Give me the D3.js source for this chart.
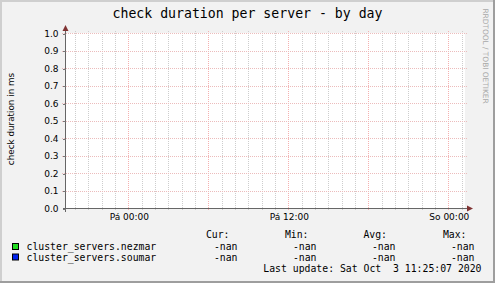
<!DOCTYPE html>
<head>
  <meta charset="utf-8">
  <style>
  body { margin: 0; }
  svg { display: block; }
  .mono { font-family: "DejaVu Sans Mono", monospace; }
  .sans { font-family: "DejaVu Sans", sans-serif; }
  .axis path, .axis line { shape-rendering: crispEdges; }
  </style>
  <title>check duration per server - by day</title>
</head>
<body>
  <svg width="495" height="283"></svg>
  <script src="https://d3js.org/d3.v7.min.js"></script>
  <script>
  // data (all series empty: rrd returned nothing, legend shows -nan)
  var seriesNames = ["cluster_servers.nezmar", "cluster_servers.soumar"];
  var seriesColors = ["#22dd22", "#0022ee"];
  var nezmarValues = [];
  var soumarValues = [];
  var legendHeaders = ["Cur:", "Min:", "Avg:", "Max:"];
  var nezmarStats = ["-nan", "-nan", "-nan", "-nan"];
  var soumarStats = ["-nan", "-nan", "-nan", "-nan"];
  var yTicks = [0, 0.1, 0.2, 0.3, 0.4, 0.5, 0.6, 0.7, 0.8, 0.9, 1.0];
  var xTicks = [new Date(2020, 9, 2, 0), new Date(2020, 9, 2, 12), new Date(2020, 9, 3, 0)];
  var xTickLabels = ["Pá 00:00", "Pá 12:00", "So 00:00"];
  var timeStart = new Date(2020, 9, 1, 19, 15);
  var timeEnd = new Date(2020, 9, 3, 1, 15);

  var svg = d3.select("svg"),
      width = +svg.attr("width"),
      height = +svg.attr("height");

  // plot area (named so they don't clash with window.top)
  var pLeft = 65, pRight = 465, pTop = 33, pBottom = 208;

  var x = d3.scaleTime().domain([timeStart, timeEnd]).range([pLeft, pRight]);
  var y = d3.scaleLinear().domain([0, 1]).range([pBottom, pTop]);

  // background + shade frame
  svg.append("rect").attr("width", width).attr("height", height).attr("fill", "#f2f2f2");
  svg.append("path").attr("d", "M1,283V1H495").attr("fill", "none")
      .attr("stroke", "#cfcfcf").attr("stroke-width", 2);
  svg.append("path").attr("d", "M0,282H494V0").attr("fill", "none")
      .attr("stroke", "#9e9e9e").attr("stroke-width", 2);

  // canvas
  svg.append("rect").attr("x", pLeft).attr("y", pTop)
      .attr("width", pRight - pLeft).attr("height", pBottom - pTop).attr("fill", "#fff");

  // minor grid, every hour
  var hours = d3.timeHour.range(timeStart, timeEnd);
  svg.append("g").selectAll("line")
    .data(hours.filter(function(d) { return d.getHours() % 6 != 0; }))
    .enter().append("line")
      .attr("x1", function(d) { return Math.round(x(d)) + 0.5; })
      .attr("x2", function(d) { return Math.round(x(d)) + 0.5; })
      .attr("y1", pTop - 2).attr("y2", pBottom + 2)
      .attr("stroke", "#cdcdcd").attr("stroke-dasharray", "1,1");

  // major grid, every 6 hours
  svg.append("g").selectAll("line")
    .data(hours.filter(function(d) { return d.getHours() % 6 == 0; }))
    .enter().append("line")
      .attr("x1", function(d) { return Math.round(x(d)) + 0.5; })
      .attr("x2", function(d) { return Math.round(x(d)) + 0.5; })
      .attr("y1", pTop - 2).attr("y2", pBottom + 3)
      .attr("stroke", "#f5b0b0").attr("stroke-dasharray", "1,1");

  // horizontal grid
  svg.append("g").selectAll("line")
    .data(yTicks.filter(function(d) { return d > 0; }))
    .enter().append("line")
      .attr("x1", pLeft - 3).attr("x2", pRight + 2)
      .attr("y1", function(d) { return Math.round(y(d)) + 0.5; })
      .attr("y2", function(d) { return Math.round(y(d)) + 0.5; })
      .attr("stroke", "#ecbcbc").attr("stroke-dasharray", "1,1");

  // series lines (nothing to draw)
  var line = d3.line()
      .defined(function(d) { return !isNaN(d.v); })
      .x(function(d) { return x(d.t); })
      .y(function(d) { return y(d.v); });
  [nezmarValues, soumarValues].forEach(function(vals, i) {
    svg.append("path").datum(vals).attr("d", line)
        .attr("fill", "none").attr("stroke", seriesColors[i]);
  });

  // y axis
  var yAxis = svg.append("g")
      .attr("class", "axis sans")
      .attr("transform", "translate(" + (pLeft + 0.5) + ",0.5)")
      .call(d3.axisLeft(y).tickValues(yTicks).tickFormat(d3.format(".1f")).tickSize(3).tickPadding(4));
  yAxis.select(".domain").attr("d", "M0," + (pBottom + 3) + "V" + (pTop - 3)).attr("stroke", "#666");
  yAxis.selectAll(".tick line").attr("stroke", "#777");
  yAxis.selectAll("text").attr("font-size", 9).attr("fill", "#000")
      .attr("font-family", "DejaVu Sans");

  // x axis
  var xAxis = svg.append("g")
      .attr("class", "axis sans")
      .attr("transform", "translate(0.5," + (pBottom + 0.5) + ")")
      .call(d3.axisBottom(x).tickValues(xTicks)
        .tickFormat(function(d, i) { return xTickLabels[i]; })
        .tickSize(0).tickPadding(5));
  xAxis.select(".domain").attr("d", "M" + (pLeft - 3) + ",0H" + (pRight + 3)).attr("stroke", "#666");
  xAxis.selectAll("text").attr("font-size", 9).attr("fill", "#000")
      .attr("font-family", "DejaVu Sans");

  // arrows
  svg.append("path").attr("d", "M" + (pLeft - 2.5) + "," + (pTop - 2) + "L" + (pLeft + 0.5) + "," + (pTop - 8) + "L" + (pLeft + 3.5) + "," + (pTop - 2) + "Z")
      .attr("fill", "#803333");
  svg.append("path").attr("d", "M" + (pRight + 2) + "," + (pBottom - 2.5) + "L" + (pRight + 8) + "," + (pBottom + 0.5) + "L" + (pRight + 2) + "," + (pBottom + 3.5) + "Z")
      .attr("fill", "#803333");

  // title
  svg.append("text").attr("class", "mono")
      .attr("x", 247.5).attr("y", 18)
      .attr("text-anchor", "middle").attr("font-size", 13.2)
      .text("check duration per server - by day");

  // y axis title
  svg.append("text").attr("class", "sans")
      .attr("transform", "translate(14,119) rotate(-90)")
      .attr("text-anchor", "middle").attr("font-size", 8.8)
      .text("check duration in ms");

  // watermark
  svg.append("text").attr("class", "sans")
      .attr("transform", "translate(483,56) rotate(90)")
      .attr("text-anchor", "middle").attr("font-size", 7.4)
      .attr("fill", "#a8a8a8")
      .text("RRDTOOL / TOBI OETIKER");

  // legend
  var headerX = [229.5, 308.5, 387, 466.5];
  var valueX = [237.5, 316.5, 395.5, 474.5];
  var legend = svg.append("g").attr("class", "mono").attr("font-size", 9.8);

  legend.selectAll(".hdr")
    .data(legendHeaders)
    .enter().append("text")
      .attr("x", function(d, i) { return headerX[i]; })
      .attr("y", 237.5)
      .attr("text-anchor", "end")
      .text(function(d) { return d; });

  var rowY = [250, 260.5];
  [nezmarStats, soumarStats].forEach(function(stats, r) {
    legend.append("rect")
        .attr("x", 12.5).attr("y", rowY[r] - 6.5)
        .attr("width", 6).attr("height", 6)
        .attr("fill", seriesColors[r]).attr("stroke", "#000");
    legend.append("text")
        .attr("x", 26.5).attr("y", rowY[r])
        .text(seriesNames[r]);
    legend.selectAll(".row" + r)
      .data(stats)
      .enter().append("text")
        .attr("x", function(d, i) { return valueX[i]; })
        .attr("y", rowY[r])
        .attr("text-anchor", "end")
        .text(function(d) { return d; });
  });

  legend.append("text")
      .attr("x", 481.5).attr("y", 271.5)
      .attr("text-anchor", "end")
      .style("white-space", "pre")
      .text("Last update: Sat Oct  3 11:25:07 2020");
  </script>
</body>
